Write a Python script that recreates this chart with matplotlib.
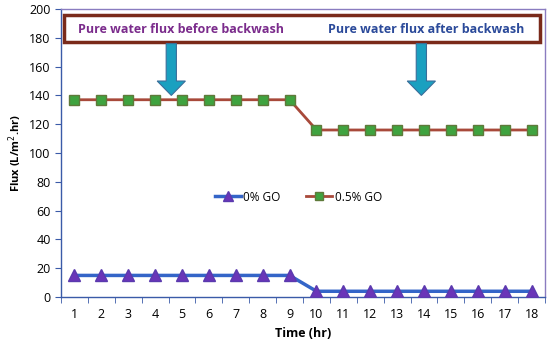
import matplotlib
matplotlib.use("Agg")
from matplotlib import pyplot as plt
from matplotlib.patches import Rectangle, FancyArrow

plt.rcParams['font.family'] = ['Open Sans', 'DejaVu Sans']

time_hr = list(range(1, 19))
go_0 = [15] * 9 + [4] * 9
go_05 = [137] * 9 + [116] * 9
x_ticks = list(range(1, 19))
y_ticks = [0, 20, 40, 60, 80, 100, 120, 140, 160, 180, 200]

fig = plt.figure(figsize=(5.5, 3.47), dpi=100)
ax = fig.add_axes([0.111, 0.144, 0.88, 0.830])

ax.plot(time_hr, go_0, color="#3465C8", lw=2.5, marker="^", markersize=9,
        markerfacecolor="#6A35B8", markeredgecolor="#5A3AAE", label="0% GO", zorder=3)
ax.plot(time_hr, go_05, color="#A8493A", lw=2, marker="s", markersize=7,
        markerfacecolor="#3FA33F", markeredgecolor="#5E7A3A", label="0.5% GO", zorder=3)

ax.set_xlim(0.5, 18.5)
ax.set_ylim(0, 200)
ax.set_xticks(x_ticks)
ax.set_yticks(y_ticks)
ax.set_xticks([i + 0.5 for i in range(0, 19)], minor=True)
ax.tick_params(axis="x", which="major", length=0, pad=8, labelsize=9)
ax.tick_params(axis="x", which="minor", length=4, color="#3A5BA8", direction="out")
ax.tick_params(axis="y", length=4, color="#3A5BA8", labelsize=9)

for s in ["left", "bottom"]:
    ax.spines[s].set_color("#3A5BA8")
    ax.spines[s].set_linewidth(1)
for s in ["top", "right"]:
    ax.spines[s].set_color("#8A7CC0")
    ax.spines[s].set_linewidth(1)

ax.set_xlabel("Time (hr)", fontweight="bold", fontsize=9)
ax.set_ylabel("Flux (L/m$^2$.hr)", fontweight="bold", fontsize=8)

# annotation box and arrows
box = Rectangle((0.62, 177), 17.7, 19, fill=False, edgecolor="#7A2A1A", lw=2.5, zorder=4)
ax.add_patch(box)
ax.text(4.97, 185.5, "Pure water flux before backwash", color="#7B2C8C", fontsize=9,
        fontweight="bold", ha="center", va="center", zorder=5)
ax.text(14.07, 185.5, "Pure water flux after backwash", color="#2B4A9A", fontsize=9,
        fontweight="bold", ha="center", va="center", zorder=5)
for xa in [4.6, 13.9]:
    ax.add_patch(FancyArrow(xa, 176, 0, -36, width=0.38, head_width=1.05, head_length=10,
                            length_includes_head=True, facecolor="#1AA0C0",
                            edgecolor="#3A6E9A", lw=0.8, zorder=4))

ax.legend(loc="center", bbox_to_anchor=(0.49, 0.347), ncol=2, frameon=False,
          fontsize=8.5, handlelength=2.2, handletextpad=0.2, columnspacing=2.2,
          markerscale=0.8)

fig.savefig("out.png", dpi=100)
